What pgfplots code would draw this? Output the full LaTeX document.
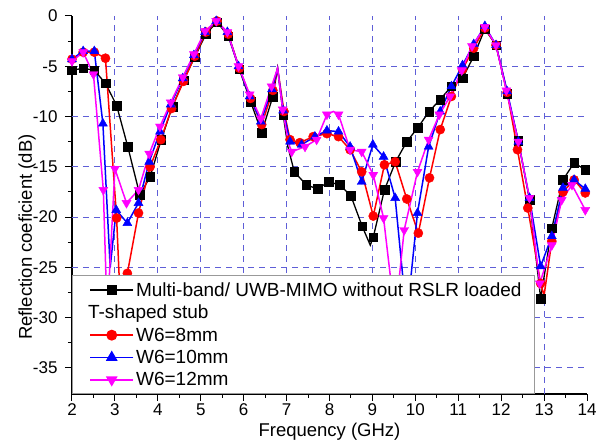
\documentclass[border=0pt]{standalone}
\usepackage{fontspec}
\setmainfont{Liberation Sans}
\usepackage{pgfplots}
\usepackage{pgfplotstable}
\pgfplotsset{compat=1.18}
\definecolor{gridblue}{RGB}{95,95,215}
\definecolor{magentaline}{RGB}{255,0,255}
\definecolor{blueline}{RGB}{0,0,255}
\definecolor{redline}{RGB}{255,0,0}

% Reflection coefficient (dB) versus frequency (GHz); m=1 marks a plotted symbol
\pgfplotstableread{
f s m
2.00 -5.4 1
2.26 -5.2 1
2.52 -5.4 1
2.78 -6.7 1
3.04 -8.9 1
3.30 -13.0 1
3.58 -17.8 1
3.82 -16.0 1
4.08 -12.3 1
4.34 -9.0 1
4.60 -6.4 1
4.86 -4.1 1
5.12 -1.8 1
5.38 -0.6 1
5.64 -2.0 1
5.90 -5.3 1
6.16 -8.5 1
6.42 -11.6 1
6.68 -8.0 1
6.79 -5.2 0
6.92 -9.8 1
7.03 -13.0 0
7.18 -15.5 1
7.46 -16.8 1
7.72 -17.2 1
7.98 -16.5 1
8.24 -16.8 1
8.50 -17.9 1
8.76 -20.9 1
8.95 -22.8 0
9.02 -22.0 1
9.28 -17.3 1
9.54 -14.5 1
9.80 -12.5 1
10.06 -11.1 1
10.32 -9.5 1
10.58 -8.3 1
10.84 -7.0 1
11.10 -6.2 1
11.36 -4.0 1
11.62 -1.3 1
11.88 -2.9 1
12.14 -7.7 1
12.40 -12.4 1
12.66 -18.3 1
12.92 -28.1 1
13.18 -21.1 1
13.44 -16.3 1
13.70 -14.6 1
13.96 -15.3 1
}\refdata

\pgfplotstableread{
f s m
2.00 -4.3 1
2.26 -3.6 1
2.52 -3.6 1
2.78 -4.2 1
3.04 -20.1 1
3.14 -30.0 0
3.29 -25.6 1
3.55 -19.6 1
3.82 -15.0 1
4.07 -12.3 1
4.32 -9.2 1
4.60 -6.5 1
4.86 -4.0 1
5.12 -1.6 1
5.38 -0.5 1
5.64 -1.8 1
5.90 -5.2 1
6.16 -8.2 1
6.42 -10.8 1
6.68 -7.4 1
6.79 -5.2 0
6.94 -9.5 1
7.08 -12.3 1
7.31 -12.6 1
7.62 -12.0 1
7.94 -11.7 1
8.21 -12.0 1
8.48 -13.3 1
8.75 -15.5 1
9.02 -19.9 1
9.28 -14.8 1
9.53 -14.5 1
9.80 -18.2 1
10.07 -21.6 1
10.33 -16.1 1
10.58 -11.3 1
10.84 -8.0 1
11.10 -5.3 1
11.36 -3.2 1
11.62 -1.2 1
11.88 -2.9 1
12.14 -7.6 1
12.38 -13.3 1
12.62 -19.1 1
12.92 -26.6 1
13.00 -27.8 0
13.18 -22.4 1
13.44 -17.5 1
13.70 -16.3 1
13.96 -17.6 1
}\weightA

\pgfplotstableread{
f s m
2.00 -4.3 1
2.26 -3.5 1
2.52 -3.5 1
2.72 -10.7 1
2.89 -25.0 0
3.03 -19.3 1
3.29 -20.6 1
3.55 -18.6 1
3.80 -14.5 1
4.05 -11.5 1
4.30 -8.8 1
4.58 -6.2 1
4.84 -3.9 1
5.10 -1.6 1
5.36 -0.5 1
5.62 -1.6 1
5.88 -5.0 1
6.14 -8.0 1
6.40 -10.5 1
6.66 -7.3 1
6.79 -5.2 0
6.92 -9.4 1
7.08 -12.5 1
7.35 -12.8 1
7.66 -12.0 1
7.94 -11.4 1
8.21 -11.5 1
8.48 -13.0 1
8.75 -16.5 1
9.01 -12.8 1
9.26 -14.0 1
9.53 -18.1 1
9.80 -30.0 0
10.05 -19.6 1
10.31 -13.0 1
10.58 -9.5 1
10.84 -7.0 1
11.10 -4.9 1
11.36 -2.8 1
11.62 -1.0 1
11.88 -2.9 1
12.14 -7.5 1
12.40 -12.5 1
12.66 -18.1 1
12.92 -24.9 1
13.18 -21.9 1
13.44 -17.1 1
13.70 -16.3 1
13.96 -17.2 1
}\weightB

\pgfplotstableread{
f s m
2.00 -4.5 1
2.26 -3.6 1
2.50 -5.8 1
2.73 -17.3 1
2.82 -30.0 0
3.00 -15.2 1
3.27 -18.6 1
3.55 -17.3 1
3.80 -13.7 1
4.05 -11.0 1
4.30 -8.6 1
4.58 -6.1 1
4.84 -3.8 1
5.10 -1.5 1
5.36 -0.5 1
5.62 -1.6 1
5.88 -5.0 1
6.14 -7.8 1
6.40 -10.2 1
6.65 -7.0 1
6.79 -5.2 0
6.91 -9.3 1
7.04 -12.6 0
7.12 -13.5 1
7.43 -13.0 1
7.70 -12.3 1
7.94 -9.8 1
8.09 -9.5 0
8.21 -9.8 1
8.48 -13.3 1
8.75 -13.5 1
9.02 -15.8 1
9.26 -20.1 1
9.53 -30.0 0
9.74 -21.3 1
10.05 -15.5 1
10.31 -12.3 1
10.56 -9.8 1
10.81 -8.0 1
11.08 -5.4 1
11.32 -3.0 1
11.62 -1.1 1
11.88 -2.9 1
12.12 -7.4 1
12.40 -12.5 1
12.66 -18.1 1
12.90 -26.6 1
13.18 -22.8 1
13.41 -18.3 1
13.65 -16.8 1
13.96 -19.3 1
}\weightC

\begin{document}
\begin{tikzpicture}
\begin{axis}[
  scale only axis, width=515pt, height=378pt,
  xmin=2, xmax=14, ymin=-37.6, ymax=0,
  axis lines=left, axis line style={-, line width=1.1pt},
  xtick={2,...,14}, ytick={-35,-30,...,0},
  minor x tick num=1, minor y tick num=1,
  tick align=outside, major tick length=7pt, minor tick length=4pt,
  every tick/.style={black, line width=1pt},
  extra x ticks={3,...,13}, extra x tick labels={},
  extra x tick style={grid=major, major tick length=0pt},
  extra y ticks={-35,-30,...,-5}, extra y tick labels={},
  extra y tick style={grid=major, major tick length=0pt},
  major grid style={gridblue, line width=1.1pt, dash pattern=on 6pt off 5pt},
  ticklabel style={font=\fontsize{17}{20}\selectfont},
  xticklabel style={yshift=-1.5pt, inner ysep=1pt},
  yticklabel style={xshift=-4pt},
  /pgf/number format/assume math mode=true,
  xlabel={Frequency (GHz)}, ylabel={Reflection coeficient (dB)},
  label style={font=\fontsize{18.5}{22}\selectfont},
  xlabel style={at={(axis description cs:0.5,-0.1125)}, anchor=base, inner ysep=0pt},
  ylabel style={at={(axis description cs:-0.0874,0.415)}, anchor=center, rotate=0},
  legend style={at={(0,0)}, anchor=south west, draw=gray!80, line width=0.8pt,
    fill=white, font=\fontsize{19}{22}\selectfont, row sep=3.5pt,
    inner xsep=11pt, inner ysep=4.5pt},
  legend cell align=left,
  legend image code/.code={\path (0pt,0pt);\draw[mark repeat=2,mark phase=2]
    plot coordinates {(6pt,0pt) (27.5pt,0pt) (49pt,0pt)};},
]
\coordinate (sw) at (rel axis cs:0,0);
\coordinate (ne) at (rel axis cs:1,1);

\addplot[black, line width=1.3pt, forget plot] table[x=f,y=s] {\refdata};
\addplot[black, only marks, mark=square*, mark size=4.3pt, forget plot,
  restrict expr to domain={\thisrow{m}}{1:1}] table[x=f,y=s] {\refdata};

\addplot[redline, line width=1.5pt, forget plot] table[x=f,y=s] {\weightA};
\addplot[redline, only marks, mark=*, mark size=4.6pt, forget plot,
  restrict expr to domain={\thisrow{m}}{1:1}] table[x=f,y=s] {\weightA};

\addplot[blueline, line width=1.5pt, forget plot] table[x=f,y=s] {\weightB};
\addplot[blueline, only marks, mark=triangle*, mark size=5.2pt, forget plot,
  restrict expr to domain={\thisrow{m}}{1:1}] table[x=f,y=s] {\weightB};

\addplot[magentaline, line width=1.5pt, forget plot] table[x=f,y=s] {\weightC};
\addplot[magentaline, only marks, mark=triangle*, mark size=5.2pt, mark options={rotate=180}, forget plot,
  restrict expr to domain={\thisrow{m}}{1:1}] table[x=f,y=s] {\weightC};

\addlegendimage{draw=black, fill=black, line width=1.3pt, mark=square*, mark size=4.3pt}
\addlegendentry{Multi-band/ UWB-MIMO without RSLR loaded}
\addlegendimage{empty legend}
\addlegendentry{\hspace*{-48pt}T-shaped stub}
\addlegendimage{draw=redline, fill=redline, line width=1.7pt, mark=*, mark size=4.6pt}
\addlegendentry{W6=8mm}
\addlegendimage{draw=blueline, fill=blueline, line width=1.7pt, mark=triangle*, mark size=5.2pt}
\addlegendentry{W6=10mm}
\addlegendimage{draw=magentaline, fill=magentaline, line width=1.7pt, mark=triangle*, mark size=5.2pt, mark options={rotate=180}}
\addlegendentry{W6=12mm}
\end{axis}
\pgfresetboundingbox
\path[use as bounding box] ([shift={(-72pt,-47pt)}]sw) rectangle ([shift={(13pt,16pt)}]ne);
\end{tikzpicture}
\end{document}
